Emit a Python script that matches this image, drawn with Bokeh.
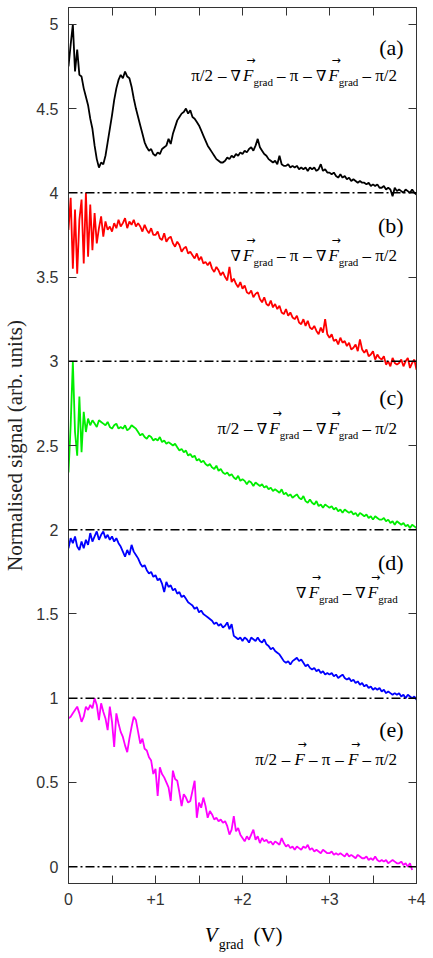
import re
import numpy as np
from bokeh.plotting import figure
from bokeh.layouts import column
from bokeh.models import Range1d, LinearAxis, FixedTicker, Span, Label, ColumnDataSource
from bokeh.embed import file_html
from bokeh.resources import INLINE

# ---------------- data ----------------
v_step = 0.025  # V, sampling of the hand-read curves

sig_a = [4.75, 4.88, 5.00, 4.72, 4.85, 4.70, 4.69, 4.62,
         4.57, 4.52, 4.44, 4.38, 4.28, 4.20, 4.15, 4.18,
         4.17, 4.22, 4.30, 4.38, 4.46, 4.55, 4.62, 4.67,
         4.70, 4.68, 4.72, 4.69, 4.68, 4.63, 4.56, 4.50,
         4.45, 4.40, 4.35, 4.30, 4.27, 4.25, 4.26, 4.23,
         4.22, 4.24, 4.23, 4.26, 4.27, 4.28, 4.32, 4.29,
         4.35, 4.39, 4.43, 4.45, 4.47, 4.48, 4.50, 4.47,
         4.49, 4.45, 4.44, 4.42, 4.40, 4.37, 4.34, 4.31,
         4.28, 4.26, 4.24, 4.22, 4.20, 4.19, 4.18, 4.18,
         4.19, 4.21, 4.20, 4.22, 4.21, 4.23, 4.22, 4.24,
         4.23, 4.25, 4.24, 4.26, 4.27, 4.25, 4.28, 4.32,
         4.27, 4.25, 4.23, 4.22, 4.20, 4.19, 4.18, 4.19,
         4.17, 4.22, 4.17, 4.16, 4.16, 4.17, 4.15, 4.16,
         4.15, 4.16, 4.14, 4.15, 4.14, 4.15, 4.13, 4.15,
         4.14, 4.15, 4.13, 4.14, 4.17, 4.13, 4.14, 4.12,
         4.12, 4.11, 4.12, 4.10, 4.09, 4.11, 4.09, 4.10,
         4.08, 4.09, 4.07, 4.08, 4.07, 4.06, 4.07, 4.06,
         4.06, 4.05, 4.06, 4.04, 4.05, 4.04, 4.05, 4.03,
         4.03, 4.04, 4.02, 4.03, 4.02, 3.98, 4.03, 4.01,
         4.02, 4.01, 4.00, 4.02, 4.01, 4.00, 4.02, 4.00,
         3.99]

sig_b = [3.78, 3.97, 3.55, 3.90, 3.52, 3.84, 3.96, 3.58,
         4.00, 3.62, 3.93, 3.66, 3.88, 3.70, 3.79, 3.86,
         3.74, 3.83, 3.78, 3.80, 3.77, 3.82, 3.79, 3.84,
         3.80, 3.82, 3.85, 3.79, 3.83, 3.81, 3.84, 3.80,
         3.82, 3.80, 3.77, 3.81, 3.78, 3.76, 3.79, 3.75,
         3.75, 3.77, 3.73, 3.72, 3.76, 3.71, 3.73, 3.74,
         3.70, 3.68, 3.71, 3.69, 3.65, 3.67, 3.68, 3.64,
         3.65, 3.63, 3.61, 3.64, 3.60, 3.62, 3.58, 3.59,
         3.57, 3.59, 3.55, 3.53, 3.56, 3.54, 3.51, 3.53,
         3.50, 3.48, 3.56, 3.47, 3.49, 3.46, 3.44, 3.47,
         3.43, 3.45, 3.41, 3.40, 3.42, 3.38, 3.40, 3.41,
         3.37, 3.35, 3.38, 3.34, 3.33, 3.36, 3.32, 3.34,
         3.31, 3.33, 3.29, 3.28, 3.31, 3.27, 3.29, 3.26,
         3.25, 3.27, 3.23, 3.22, 3.25, 3.21, 3.24, 3.20,
         3.19, 3.21, 3.18, 3.16, 3.20, 3.17, 3.25, 3.16,
         3.14, 3.16, 3.12, 3.13, 3.10, 3.14, 3.11, 3.12,
         3.09, 3.11, 3.07, 3.08, 3.10, 3.06, 3.13, 3.07,
         3.05, 3.07, 3.03, 3.04, 3.06, 3.01, 3.04, 3.02,
         3.01, 3.03, 2.98, 3.00, 2.97, 3.02, 2.99, 2.98,
         2.99, 3.01, 2.97, 3.00, 3.02, 2.96, 2.99, 3.01,
         2.95]

sig_c = [2.34, 2.62, 3.00, 2.58, 2.44, 2.79, 2.46, 2.70,
         2.58, 2.66, 2.62, 2.65, 2.63, 2.61, 2.65, 2.64,
         2.63, 2.62, 2.64, 2.61, 2.60, 2.62, 2.63, 2.60,
         2.61, 2.60, 2.62, 2.59, 2.60, 2.62, 2.61, 2.60,
         2.58, 2.56, 2.57, 2.55, 2.54, 2.56, 2.55, 2.53,
         2.54, 2.53, 2.55, 2.52, 2.53, 2.51, 2.52, 2.51,
         2.50, 2.51, 2.49, 2.47, 2.48, 2.46, 2.47, 2.44,
         2.45, 2.43, 2.44, 2.41, 2.42, 2.40, 2.41, 2.39,
         2.38, 2.39, 2.37, 2.36, 2.38, 2.35, 2.36, 2.34,
         2.33, 2.34, 2.32, 2.33, 2.31, 2.30, 2.32, 2.29,
         2.30, 2.29, 2.27, 2.29, 2.28, 2.26, 2.28, 2.27,
         2.26, 2.27, 2.25, 2.26, 2.24, 2.25, 2.23, 2.24,
         2.23, 2.22, 2.24, 2.21, 2.22, 2.20, 2.21, 2.19,
         2.20, 2.21, 2.19, 2.18, 2.20, 2.17, 2.16, 2.18,
         2.16, 2.15, 2.17, 2.14, 2.15, 2.13, 2.15, 2.14,
         2.13, 2.14, 2.12, 2.13, 2.11, 2.12, 2.10, 2.12,
         2.11, 2.10, 2.11, 2.09, 2.10, 2.08, 2.10, 2.09,
         2.08, 2.09, 2.07, 2.08, 2.06, 2.08, 2.07, 2.06,
         2.06, 2.07, 2.05, 2.06, 2.04, 2.05, 2.03, 2.05,
         2.04, 2.03, 2.04, 2.02, 2.03, 2.01, 2.03, 2.02,
         2.01]

sig_d = [1.89, 1.95, 1.92, 1.96, 1.90, 1.88, 1.93, 1.89,
         1.94, 1.91, 1.98, 1.93, 1.96, 1.99, 1.94, 1.97,
         1.99, 1.95, 1.97, 1.94, 1.96, 1.93, 1.95, 1.92,
         1.90, 1.87, 1.84, 1.88, 1.85, 1.91, 1.87, 1.85,
         1.83, 1.80, 1.78, 1.79, 1.76, 1.74, 1.75, 1.72,
         1.73, 1.70, 1.71, 1.68, 1.63, 1.69, 1.66, 1.67,
         1.64, 1.65, 1.62, 1.63, 1.60, 1.61, 1.59, 1.57,
         1.56, 1.55, 1.53, 1.54, 1.51, 1.52, 1.50, 1.49,
         1.48, 1.47, 1.46, 1.44, 1.45, 1.43, 1.44, 1.42,
         1.43, 1.45, 1.41, 1.44, 1.37, 1.36, 1.35, 1.36,
         1.34, 1.36, 1.35, 1.33, 1.36, 1.35, 1.34, 1.36,
         1.34, 1.33, 1.35, 1.32, 1.31, 1.29, 1.30, 1.28,
         1.27, 1.26, 1.24, 1.22, 1.21, 1.22, 1.20, 1.22,
         1.23, 1.24, 1.22, 1.23, 1.21, 1.19, 1.20, 1.18,
         1.17, 1.18, 1.16, 1.17, 1.15, 1.16, 1.14, 1.15,
         1.14, 1.15, 1.13, 1.14, 1.12, 1.13, 1.14, 1.12,
         1.11, 1.12, 1.10, 1.11, 1.09, 1.10, 1.08, 1.09,
         1.07, 1.08, 1.06, 1.07, 1.05, 1.06, 1.05, 1.06,
         1.04, 1.05, 1.03, 1.04, 1.03, 1.02, 1.03, 1.02,
         1.03, 1.01, 1.02, 1.00, 1.02, 1.01, 1.00, 1.01,
         0.99]

sig_e = [0.88, 0.89, 0.91, 0.93, 0.95, 0.91, 0.86, 0.89,
         0.95, 0.93, 0.96, 0.94, 1.00, 0.96, 0.87, 0.97,
         0.92, 0.88, 0.81, 0.95, 0.86, 0.71, 0.91, 0.85,
         0.80, 0.77, 0.72, 0.68, 0.76, 0.83, 0.89, 0.87,
         0.80, 0.73, 0.76, 0.70, 0.69, 0.65, 0.63, 0.55,
         0.58, 0.42, 0.59, 0.55, 0.53, 0.50, 0.47, 0.39,
         0.57, 0.52, 0.51, 0.44, 0.36, 0.43, 0.41, 0.38,
         0.39, 0.45, 0.51, 0.29, 0.38, 0.35, 0.41, 0.36,
         0.29, 0.33, 0.31, 0.28, 0.29, 0.27, 0.28, 0.26,
         0.27, 0.24, 0.19, 0.22, 0.30, 0.21, 0.23, 0.19,
         0.17, 0.15, 0.18, 0.16, 0.19, 0.22, 0.16, 0.18,
         0.14, 0.17, 0.15, 0.16, 0.14, 0.15, 0.13, 0.15,
         0.14, 0.13, 0.17, 0.14, 0.12, 0.13, 0.11, 0.12,
         0.10, 0.12, 0.11, 0.10, 0.12, 0.11, 0.13, 0.10,
         0.11, 0.09, 0.10, 0.09, 0.08, 0.10, 0.09, 0.08,
         0.08, 0.09, 0.07, 0.08, 0.07, 0.08, 0.07, 0.06,
         0.08, 0.06, 0.07, 0.06, 0.05, 0.07, 0.06, 0.05,
         0.05, 0.06, 0.04, 0.05, 0.04, 0.06, 0.04, 0.03,
         0.04, 0.03, 0.04, 0.02, 0.03, 0.04, 0.03, 0.02,
         0.02, 0.03, 0.01, 0.02, 0.00, 0.02,
         -0.02]

series = [("a", sig_a, "#000000"), ("b", sig_b, "#ff0000"), ("c", sig_c, "#00ee00"),
          ("d", sig_d, "#0000ff"), ("e", sig_e, "#ff00ff")]
baselines = [0, 1, 2, 3, 4]

x_ticks = [0, 1, 2, 3, 4]
x_tick_labels = ["0", "+1", "+2", "+3", "+4"]
x_minor_ticks = [0.5, 1.5, 2.5, 3.5]
y_ticks = [0, 0.5, 1, 1.5, 2, 2.5, 3, 3.5, 4, 4.5, 5]
y_tick_labels = ["0", "0.5", "1", "1.5", "2", "2.5", "3", "3.5", "4", "4.5", "5"]

# ---------------- layout constants ----------------
W, H = 433, 958
FL, FT, FW, FH = 66, 7, 350, 876
H_MAIN = 918            # main figure height, x-label strip below
X0, X1 = 0.0, 4.0
Y0, Y1 = -0.1, 5.1

def px2x(px):
    return X0 + (px - FL) / FW * (X1 - X0)

def py2y(py):
    return Y1 - (py - FT) / FH * (Y1 - Y0)

# approximate advance widths (em) for the fonts used
EM = {
    "serif": {" ": 0.25, "\u2013": 0.5, "\u03c0": 0.55, "/": 0.278, "2": 0.5,
              "g": 0.5, "r": 0.333, "a": 0.444, "d": 0.5, "(": 0.333, ")": 0.333, "V": 0.722},
    "serif_i": {"F": 0.611, "V": 0.611},
    "dvserif": {"\u2207": 0.84},
    "dvsans": {"\u2192": 0.838},
}

def measure(text, key, size):
    return sum(EM[key].get(ch, 0.5) for ch in text) * size

FAM = {"serif": ("Liberation Serif", "normal"), "serif_i": ("Liberation Serif", "italic"),
       "dvserif": ("DejaVu Serif", "normal"), "dvsans": ("DejaVu Sans", "normal")}

# ---------------- main figure ----------------
p = figure(width=W, height=H_MAIN, x_range=Range1d(X0, X1), y_range=Range1d(Y0, Y1),
           output_backend="svg", toolbar_location=None,
           min_border_left=FL, min_border_right=W - FL - FW,
           min_border_top=FT, min_border_bottom=H_MAIN - FT - FH)
p.xgrid.visible = False
p.ygrid.visible = False
p.outline_line_color = "#333333"
p.outline_line_width = 1

def style_axis(ax, labels):
    ax.axis_line_color = "#333333"
    ax.major_tick_in = 8
    ax.major_tick_out = 0
    ax.minor_tick_in = 8
    ax.minor_tick_out = 0
    ax.major_tick_line_color = "#333333"
    ax.minor_tick_line_color = "#333333"
    ax.major_label_text_font = "Liberation Sans"
    ax.major_label_text_font_size = "16px"
    ax.major_label_text_color = "#333333"
    if not labels:
        ax.major_label_text_font_size = "0px"
        ax.major_label_text_color = None
        ax.major_label_standoff = 0

xa = p.xaxis[0]
xa.ticker = FixedTicker(ticks=x_ticks, minor_ticks=x_minor_ticks)
style_axis(xa, True)
xa.major_label_overrides = {t: s for t, s in zip(x_ticks, x_tick_labels)}
xa.major_label_standoff = 9

ya = p.yaxis[0]
ya.ticker = FixedTicker(ticks=y_ticks, minor_ticks=[])
style_axis(ya, True)
ya.major_label_overrides = {t: s for t, s in zip(y_ticks, y_tick_labels)}
ya.major_label_standoff = 10
ya.axis_label = "Normalised signal (arb. units)"
ya.axis_label_text_font = "Liberation Serif"
ya.axis_label_text_font_style = "normal"
ya.axis_label_text_font_size = "21px"
ya.axis_label_text_color = "#222222"
ya.axis_label_standoff = 6

top = LinearAxis(ticker=FixedTicker(ticks=x_ticks, minor_ticks=x_minor_ticks))
style_axis(top, False)
right = LinearAxis(ticker=FixedTicker(ticks=y_ticks, minor_ticks=[]))
style_axis(right, False)
p.add_layout(top, "above")
p.add_layout(right, "right")

for b in baselines:
    p.add_layout(Span(location=b, dimension="width", line_color="black",
                      line_width=1.5, line_dash="9 3 2 3"))

for name, sig, col in series:
    xs = [round(i * v_step, 3) for i in range(len(sig))]
    src = ColumnDataSource(dict(x=xs, y=sig))
    p.line("x", "y", source=src, line_color=col, line_width=1.8)

# ---------------- annotations inside the frame ----------------
def add_text(fig, x, y, text, key, size, align="left"):
    fam, style = FAM[key]
    fig.add_layout(Label(x=x, y=y, text=text, text_font=fam,
                         text_font_style=style, text_font_size=f"{size}px",
                         text_color="black", text_align=align,
                         text_baseline="alphabetic"))

def add_px(px, py, text, key, size, align="left"):
    add_text(p, px2x(px), py2y(py), text, key, size, align)

MAIN, SUB, NAB, ARR = 17, 11, 15, 11

def formula(pieces, right_px, base_py):
    # break plain-text pieces into words and explicit gaps (SVG collapses edge spaces)
    items = []
    for kind, txt in pieces:
        if kind == "t":
            for tok in re.split(r"( )", txt):
                if tok == "":
                    continue
                if tok == " ":
                    items.append((None, "serif", MAIN, 0, False))
                else:
                    items.append((tok, "serif", MAIN, 0, False))
        elif kind == "n":
            items.append((txt, "dvserif", NAB, 0, False))
        elif kind == "F":
            items.append((txt, "serif_i", MAIN, 0, True))
        elif kind == "s":
            items.append((txt, "serif", SUB, 6, False))
    widths = [measure(t if t is not None else " ", k, s) for t, k, s, _, _ in items]
    x = right_px - sum(widths)
    for (t, k, s, dy, arrow), w in zip(items, widths):
        if t is not None:
            add_px(x, base_py + dy, t, k, s)
        if arrow:
            add_px(x + 0.6 * w + 1.5, base_py - 15, "\u2192", "dvsans", ARR, align="center")
        x += w

G = [("n", "\u2207"), ("F", "F"), ("s", "grad")]
formulas = [
    ([("t", "\u03c0/2 \u2013 ")] + G + [("t", " \u2013 \u03c0 \u2013 ")] + G + [("t", " \u2013 \u03c0/2")], 75),
    (G + [("t", " \u2013 \u03c0 \u2013 ")] + G + [("t", " \u2013 \u03c0/2")], 255),
    ([("t", "\u03c0/2 \u2013 ")] + G + [("t", " \u2013 ")] + G + [("t", " \u2013 \u03c0/2")], 428),
    (G + [("t", " \u2013 ")] + G, 592),
    ([("t", "\u03c0/2 \u2013 "), ("F", "F"), ("t", " \u2013 \u03c0 \u2013 "), ("F", "F"), ("t", " \u2013 \u03c0/2")], 759),
]
for pieces, base in formulas:
    formula(pieces, 397, base)

panel_letters = ["(a)", "(b)", "(c)", "(d)", "(e)"]
panel_base = [47, 225, 397, 562, 729]
for lab, b in zip(panel_letters, panel_base):
    add_px(403, b, lab, "serif", 22, align="right")

# ---------------- x-axis label strip: V_grad (V) ----------------
# the strip's frame is aligned with the main frame by the column layout,
# so its x range is expressed in page pixels over the frame span
H_LAB = H - H_MAIN
q = figure(width=W, height=H_LAB, x_range=Range1d(FL, FL + FW), y_range=Range1d(H_LAB, 0),
           output_backend="svg", toolbar_location=None, min_border=0,
           min_border_left=FL, min_border_right=W - FL - FW,
           x_axis_location=None, y_axis_location=None)
q.grid.visible = False
q.outline_line_color = None
add_text(q, 203, 934 - H_MAIN, "V", "serif_i", 21)
add_text(q, 217, 944 - H_MAIN, "grad", "serif", 14)
add_text(q, 252, 934 - H_MAIN, "(V)", "serif", 21)

layout = column(p, q, spacing=0)
open("out.html", "w").write(file_html(layout, INLINE))
